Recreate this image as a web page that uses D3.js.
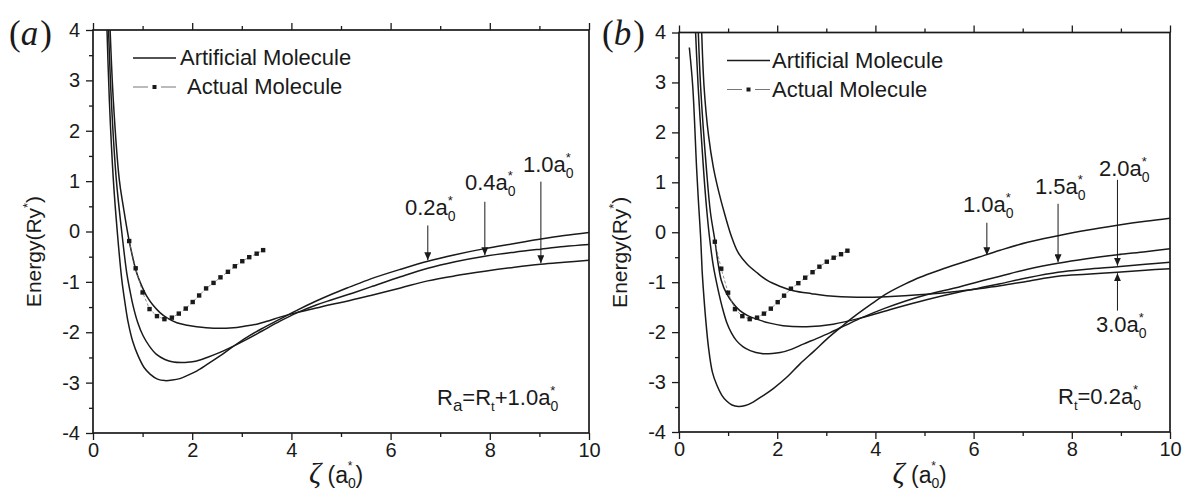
<!DOCTYPE html>
<html>
<head>
<meta charset="utf-8">
<script src="https://cdn.jsdelivr.net/npm/d3@7"></script>
<style>
  body { margin: 0; background: #fff; }
</style>
</head>
<body>
<script>
// Chart size
const width = 1185;
const height = 501;

const FONT = "'Liberation Sans', Arial, sans-serif";
const SERIF = "'Liberation Serif', 'DejaVu Serif', serif";
const INK = "#1a1a1a";

// Axis ticks
const xMajor = [0, 2, 4, 6, 8, 10];
const xMinor = [1, 3, 5, 7, 9];
const yMajor = [-4, -3, -2, -1, 0, 1, 2, 3, 4];
const yMinor = [-3.5, -2.5, -1.5, -0.5, 0.5, 1.5, 2.5, 3.5];

// Actual molecule (same points in both panels)
const actualZeta = [0.73, 0.86, 1.00, 1.14, 1.29, 1.44, 1.59, 1.73, 1.87, 2.01,
                    2.14, 2.28, 2.43, 2.57, 2.72, 2.86, 3.01, 3.15, 3.30, 3.43];
const actualEnergy = [-0.19, -0.73, -1.21, -1.54, -1.68, -1.74, -1.71, -1.63, -1.53, -1.40,
                      -1.27, -1.13, -1.02, -0.91, -0.80, -0.69, -0.59, -0.51, -0.44, -0.37];

// Panel (a): R_a = R_t + 1.0 a0*, curves labelled by R_t
const aRt02 = [[0.27, 4.4], [0.33, 2.6], [0.41, 1.03], [0.49, -0.01], [0.58, -0.95], [0.65, -1.45],
  [0.71, -1.81], [0.80, -2.18], [0.91, -2.47], [1.03, -2.70], [1.15, -2.83], [1.30, -2.93],
  [1.45, -2.96], [1.60, -2.95], [1.75, -2.92], [1.92, -2.85], [2.09, -2.77], [2.30, -2.64],
  [2.56, -2.47], [2.80, -2.30], [3.10, -2.10], [3.40, -1.93], [3.77, -1.74], [4.10, -1.57],
  [4.50, -1.38], [4.80, -1.25], [5.18, -1.10], [5.60, -0.94], [6.20, -0.75], [6.75, -0.59],
  [7.30, -0.46], [7.90, -0.34], [8.50, -0.24], [9.03, -0.15], [9.50, -0.08], [10, -0.02]];
const aRt04 = [[0.30, 4.4], [0.37, 2.6], [0.47, 1.03], [0.58, -0.01], [0.68, -0.82], [0.75, -1.20],
  [0.81, -1.48], [0.90, -1.80], [1.01, -2.07], [1.14, -2.28], [1.28, -2.44], [1.45, -2.54],
  [1.62, -2.59], [1.78, -2.60], [1.95, -2.59], [2.09, -2.57], [2.30, -2.50], [2.56, -2.40],
  [2.80, -2.29], [3.10, -2.14], [3.40, -1.98], [3.77, -1.78], [4.10, -1.62], [4.50, -1.46],
  [4.80, -1.36], [5.18, -1.24], [5.60, -1.10], [6.20, -0.90], [6.75, -0.73], [7.30, -0.60],
  [7.90, -0.49], [8.50, -0.41], [9.03, -0.35], [9.50, -0.30], [10, -0.26]];
const aRt10 = [[0.33, 4.4], [0.41, 2.6], [0.53, 1.03], [0.61, 0.50], [0.73, -0.19], [0.88, -0.82],
  [1.00, -1.12], [1.08, -1.28], [1.20, -1.45], [1.35, -1.61], [1.50, -1.72], [1.69, -1.81],
  [1.90, -1.86], [2.09, -1.89], [2.43, -1.92], [2.83, -1.91], [3.05, -1.88], [3.30, -1.84],
  [3.55, -1.77], [3.77, -1.70], [4.10, -1.61], [4.50, -1.52], [4.80, -1.45], [5.18, -1.37],
  [5.60, -1.27], [6.20, -1.12], [6.75, -0.98], [7.30, -0.88], [7.90, -0.79], [8.50, -0.71],
  [9.03, -0.65], [9.50, -0.61], [10, -0.57]];

// Panel (b): R_t = 0.2 a0*, curves labelled by R_a
const bRa10 = [[0.21, 3.70], [0.28, 2.92], [0.36, 1.25], [0.40, 0.55], [0.44, -0.09], [0.47, -0.75],
  [0.50, -1.20], [0.54, -1.70], [0.60, -2.30], [0.68, -2.80], [0.77, -3.06], [0.87, -3.26],
  [0.97, -3.38], [1.08, -3.46], [1.21, -3.49], [1.35, -3.47], [1.51, -3.40], [1.70, -3.28],
  [1.92, -3.13], [2.20, -2.90], [2.46, -2.64], [2.75, -2.38], [3.01, -2.14], [3.30, -1.90],
  [3.55, -1.70], [3.90, -1.45], [4.23, -1.23], [4.60, -1.04], [4.91, -0.90], [5.30, -0.76],
  [5.69, -0.63], [6.10, -0.50], [6.54, -0.36], [7.10, -0.20], [7.72, -0.07], [8.30, 0.04],
  [8.93, 0.14], [9.50, 0.22], [10, 0.28]];
const bRa15 = [[0.32, 4.4], [0.39, 2.92], [0.50, 1.25], [0.56, 0.50], [0.62, -0.09], [0.70, -0.68],
  [0.80, -1.17], [0.88, -1.50], [0.97, -1.80], [1.07, -2.02], [1.17, -2.17], [1.30, -2.29],
  [1.45, -2.37], [1.68, -2.43], [1.90, -2.43], [2.06, -2.41], [2.30, -2.34], [2.53, -2.24],
  [2.80, -2.13], [3.08, -2.01], [3.40, -1.86], [3.75, -1.70], [4.20, -1.52], [4.60, -1.38],
  [5.04, -1.25], [5.69, -1.10], [6.10, -0.99], [6.54, -0.88], [7.10, -0.74], [7.72, -0.62],
  [8.30, -0.53], [8.93, -0.45], [9.50, -0.39], [10, -0.33]];
const bRa20 = [[0.38, 4.4], [0.44, 2.92], [0.56, 1.25], [0.64, 0.40], [0.73, -0.16], [0.80, -0.65],
  [0.86, -0.96], [0.97, -1.23], [1.10, -1.42], [1.24, -1.57], [1.40, -1.67], [1.58, -1.74],
  [1.85, -1.82], [2.12, -1.87], [2.60, -1.89], [3.14, -1.84], [3.69, -1.72], [4.36, -1.53],
  [5.04, -1.35], [5.69, -1.20], [6.10, -1.12], [6.54, -1.03], [7.10, -0.91], [7.72, -0.80],
  [8.30, -0.74], [8.93, -0.69], [9.50, -0.64], [10, -0.60]];
const bRa30 = [[0.45, 4.4], [0.51, 2.92], [0.60, 1.95], [0.70, 1.30], [0.80, 0.85], [0.94, 0.33],
  [1.07, -0.09], [1.20, -0.40], [1.38, -0.63], [1.60, -0.82], [1.79, -0.96], [2.05, -1.08],
  [2.33, -1.17], [2.70, -1.23], [3.01, -1.27], [3.62, -1.30], [4.23, -1.29], [5.04, -1.24],
  [5.69, -1.18], [6.10, -1.13], [6.54, -1.07], [7.10, -0.98], [7.72, -0.88], [8.30, -0.84],
  [8.93, -0.80], [9.50, -0.76], [10, -0.73]];

// Arrow annotations: label, zeta of arrow, start and tip energy
const aNotes = [
  { label: "0.2a", zeta: 6.75, from: 0.12, to: -0.57, tx: 405, ty: 215 },
  { label: "0.4a", zeta: 7.90, from: 0.59, to: -0.47, tx: 465, ty: 190 },
  { label: "1.0a", zeta: 9.03, from: 0.99, to: -0.63, tx: 523, ty: 172 },
];
const bNotes = [
  { label: "1.0a", zeta: 6.27, from: 0.19, to: -0.46, tx: 963, ty: 212 },
  { label: "1.5a", zeta: 7.72, from: 0.57, to: -0.60, tx: 1035, ty: 194 },
  { label: "2.0a", zeta: 8.93, from: 1.05, to: -0.67, tx: 1099, ty: 176 },
  { label: "3.0a", zeta: 8.93, from: -1.57, to: -0.82, tx: 1096, ty: 332 },
];

const panels = [
  { tag: "a", left: 93, right: 589, top: 30, bottom: 433, curves: [aRt02, aRt04, aRt10], notes: aNotes,
    legendX: 133, legendText: [180, 187], tagX: 9,
    param: [{ t: "R" }, { t: "a", off: 6, size: 17 }, { t: "=R", off: 0 }, { t: "t", off: 6, size: 13 },
            { t: "+1.0a", off: 0 }, { t: "0", off: 6, size: 14 }, { t: "*", off: -10, size: 13, dx: -8 }],
    paramX: 437, paramY: 405 },
  { tag: "b", left: 679, right: 1170, top: 32.5, bottom: 432, curves: [bRa10, bRa15, bRa20, bRa30], notes: bNotes,
    legendX: 727, legendText: [772, 772], tagX: 602,
    param: [{ t: "R" }, { t: "t", off: 6, size: 13 }, { t: "=0.2a", off: 0 }, { t: "0", off: 6, size: 14 },
            { t: "*", off: -10, size: 13, dx: -8 }],
    paramX: 1058, paramY: 404 },
];

// Text with sub/superscript pieces
function rich(g, x, y, parts, size) {
  const t = g.append("text")
    .attr("x", x).attr("y", y)
    .attr("font-family", FONT)
    .attr("font-size", size)
    .attr("fill", INK);
  let cur = 0;
  for (const p of parts) {
    const off = p.off || 0;
    const s = t.append("tspan").attr("dy", off - cur).text(p.t);
    if (p.size) s.attr("font-size", p.size);
    if (p.dx) s.attr("dx", p.dx);
    if (p.family) s.attr("font-family", p.family);
    if (p.italic) s.attr("font-style", "italic");
    cur = off;
  }
  return t;
}

const svg = d3.select("body").append("svg")
  .attr("width", width)
  .attr("height", height)
  .attr("viewBox", [0, 0, width, height]);

svg.append("rect").attr("width", width).attr("height", height).attr("fill", "#fff");

// Arrow head
const defs = svg.append("defs");
defs.append("marker")
  .attr("id", "arrow")
  .attr("viewBox", "0 0 8 7")
  .attr("refX", 8).attr("refY", 3.5)
  .attr("markerWidth", 8).attr("markerHeight", 7)
  .attr("markerUnits", "userSpaceOnUse")
  .attr("orient", "auto")
  .append("path").attr("d", "M0,0L8,3.5L0,7Z").attr("fill", INK);

panels.forEach((p) => {
  const x = d3.scaleLinear([0, 10], [p.left, p.right]);
  const y = d3.scaleLinear([-4, 4], [p.bottom, p.top]);
  const g = svg.append("g");

  const clipId = "clip-" + p.tag;
  defs.append("clipPath").attr("id", clipId)
    .append("rect").attr("x", p.left).attr("y", p.top)
    .attr("width", p.right - p.left).attr("height", p.bottom - p.top);

  // Axes: ticks outward, labels on bottom and left only
  const styleAxis = (sel) => {
    sel.select(".domain").remove();
    sel.selectAll(".tick line").attr("stroke", INK).attr("stroke-width", 1.3);
    sel.selectAll("text").attr("fill", INK);
    sel.attr("font-family", FONT).attr("font-size", 20);
  };
  const fmt = (d) => String(d);
  g.append("g").attr("transform", `translate(0,${p.bottom})`)
    .call(d3.axisBottom(x).tickValues(xMajor).tickSize(7).tickPadding(3).tickFormat(fmt))
    .call(styleAxis);
  g.append("g").attr("transform", `translate(0,${p.bottom})`)
    .call(d3.axisBottom(x).tickValues(xMinor).tickSize(4).tickFormat(""))
    .call(styleAxis);
  g.append("g").attr("transform", `translate(0,${p.top})`)
    .call(d3.axisTop(x).tickValues(xMajor).tickSize(7).tickFormat(""))
    .call(styleAxis);
  g.append("g").attr("transform", `translate(0,${p.top})`)
    .call(d3.axisTop(x).tickValues(xMinor).tickSize(4).tickFormat(""))
    .call(styleAxis);
  g.append("g").attr("transform", `translate(${p.left},0)`)
    .call(d3.axisLeft(y).tickValues(yMajor).tickSize(7).tickPadding(6).tickFormat(fmt))
    .call(styleAxis);
  g.append("g").attr("transform", `translate(${p.left},0)`)
    .call(d3.axisLeft(y).tickValues(yMinor).tickSize(4).tickFormat(""))
    .call(styleAxis);

  // Frame
  g.append("rect")
    .attr("x", p.left).attr("y", p.top)
    .attr("width", p.right - p.left).attr("height", p.bottom - p.top)
    .attr("fill", "none").attr("stroke", INK).attr("stroke-width", 1.7);

  // Artificial molecule curves
  const line = d3.line()
    .x((d) => x(d[0]))
    .y((d) => y(d[1]))
    .curve(d3.curveCatmullRom.alpha(0.5));
  const plot = g.append("g").attr("clip-path", `url(#${clipId})`);
  plot.selectAll("path.curve")
    .data(p.curves)
    .join("path")
    .attr("class", "curve")
    .attr("fill", "none")
    .attr("stroke", INK)
    .attr("stroke-width", 1.5)
    .attr("d", line);

  // Actual molecule: thin dashed line + small squares
  const actual = actualZeta.map((z, i) => [z, actualEnergy[i]]);
  plot.append("path")
    .attr("fill", "none")
    .attr("stroke", "#777")
    .attr("stroke-width", 0.8)
    .attr("stroke-dasharray", "3,2")
    .attr("d", d3.line().x((d) => x(d[0])).y((d) => y(d[1]))(actual));
  plot.selectAll("rect.pt")
    .data(actual)
    .join("rect")
    .attr("class", "pt")
    .attr("x", (d) => x(d[0]) - 2.2)
    .attr("y", (d) => y(d[1]) - 2.2)
    .attr("width", 4.4).attr("height", 4.4)
    .attr("fill", INK);

  // Legend
  const lx = p.legendX;
  g.append("line")
    .attr("x1", lx).attr("x2", lx + 43)
    .attr("y1", p.top + 28).attr("y2", p.top + 28)
    .attr("stroke", INK).attr("stroke-width", 1.3);
  rich(g, p.legendText[0], p.top + 35, [{ t: "Artificial Molecule" }], 22);
  const ly = p.top + 57;
  g.append("line")
    .attr("x1", lx).attr("x2", lx + 15).attr("y1", ly).attr("y2", ly)
    .attr("stroke", "#777").attr("stroke-width", 1);
  g.append("line")
    .attr("x1", lx + 28).attr("x2", lx + 43).attr("y1", ly).attr("y2", ly)
    .attr("stroke", "#777").attr("stroke-width", 1);
  g.append("rect")
    .attr("x", lx + 19.5).attr("y", ly - 2).attr("width", 4).attr("height", 4)
    .attr("fill", INK);
  rich(g, p.legendText[1], p.top + 64, [{ t: "Actual Molecule" }], 22);

  // Arrow annotations
  p.notes.forEach((n) => {
    g.append("line")
      .attr("x1", x(n.zeta)).attr("x2", x(n.zeta))
      .attr("y1", y(n.from)).attr("y2", y(n.to))
      .attr("stroke", INK).attr("stroke-width", 1)
      .attr("marker-end", "url(#arrow)");
    rich(g, n.tx, n.ty, [
      { t: n.label },
      { t: "0", off: 6, size: 14 },
      { t: "*", off: -10, size: 13, dx: -8 },
    ], 22);
  });

  // Parameter text
  rich(g, p.paramX, p.paramY, p.param, 22);

  // Panel tag
  g.append("text")
    .attr("x", p.tagX).attr("y", 45)
    .attr("font-family", SERIF).attr("font-size", 35).attr("fill", INK)
    .call((t) => {
      t.append("tspan").text("(");
      t.append("tspan").attr("font-style", "italic").text(p.tag);
      t.append("tspan").attr("dx", 2).text(")");
    });

  // Axis titles
  const cx = (p.left + p.right) / 2;
  rich(g, cx - 32, 483, [
    { t: "ζ", family: SERIF, size: 30, italic: true },
    { t: " (a", size: 23 },
    { t: "0", off: 5, size: 14 },
    { t: "*", off: -13, size: 12, dx: -8 },
    { t: ")", off: 0, size: 23, dx: 3 },
  ], 23);

  const yt = rich(g, 0, 0, [
    { t: "Energy(Ry" },
    { t: "*", off: -9, size: 13 },
    { t: ")", off: 0 },
  ], 21);
  yt.attr("text-anchor", "middle")
    .attr("transform", `translate(${p.left - 52},${(p.top + p.bottom) / 2 + 20}) rotate(-90)`);
});
</script>
</body>
</html>
